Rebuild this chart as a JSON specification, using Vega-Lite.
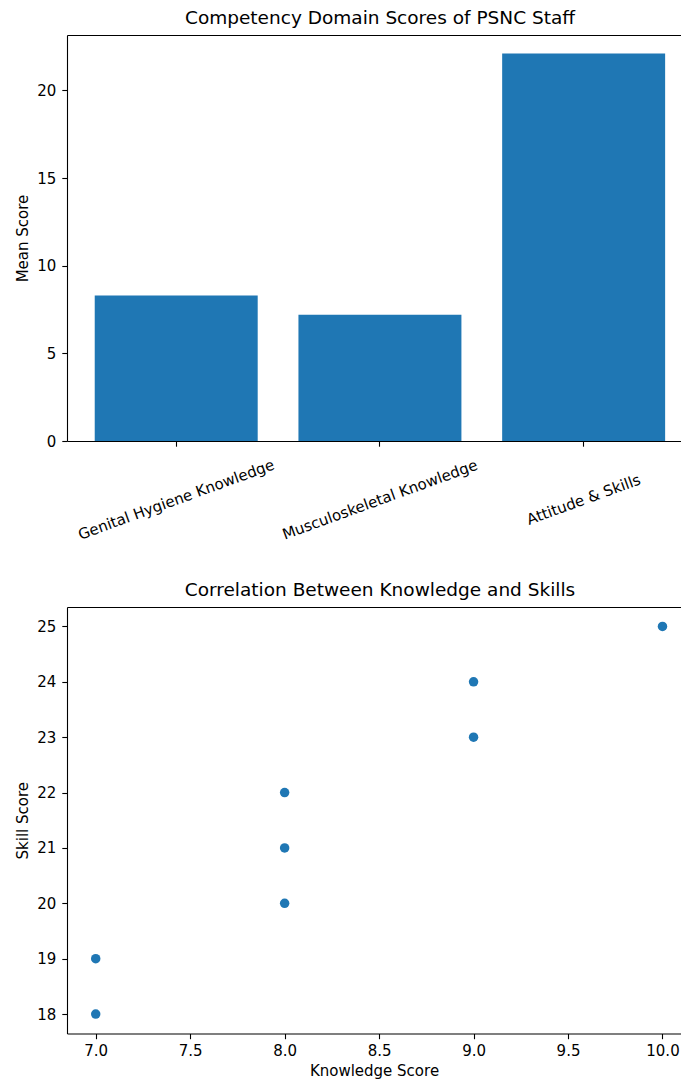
{
  "$schema": "https://vega.github.io/schema/vega-lite/v6.json",
  "background": "white",
  "padding": {"left": 15, "top": 8, "right": 0, "bottom": 0},
  "bounds": "flush",
  "spacing": 166,
  "config": {
    "font": "DejaVu Sans",
    "view": {"stroke": null},
    "axis": {
      "grid": false,
      "domainColor": "black",
      "domainWidth": 1.1,
      "tickColor": "black",
      "tickWidth": 1.1,
      "tickSize": 5.2,
      "labelColor": "black",
      "labelFont": "DejaVu Sans",
      "labelFontSize": 15,
      "labelPadding": 5,
      "labelLimit": 0,
      "titleColor": "black",
      "titleFont": "DejaVu Sans",
      "titleFontSize": 15,
      "titleFontWeight": "normal"
    },
    "title": {"font": "DejaVu Sans", "fontSize": 18.5, "fontWeight": "normal", "color": "black", "baseline": "alphabetic", "offset": 8, "dx": 6}
  },
  "vconcat": [
    {
      "title": "Competency Domain Scores of PSNC Staff",
      "width": 614,
      "height": 406,
      "data": {"values": [
        {"domain": "Genital Hygiene Knowledge", "score": 8.3},
        {"domain": "Musculoskeletal Knowledge", "score": 7.2},
        {"domain": "Attitude & Skills", "score": 22.1}
      ]},
      "layer": [
        {
          "mark": {"type": "bar", "color": "#1f77b4"},
          "encoding": {
            "x": {"field": "domain", "type": "nominal", "sort": null,
                  "scale": {"paddingInner": 0.2, "paddingOuter": 0.107, "align": 0.636},
                  "axis": {"title": null, "labelAngle": -20, "labelAlign": "center", "labelBaseline": "middle", "labelPadding": 53}},
            "y": {"field": "score", "type": "quantitative",
                  "scale": {"domain": [0, 23.16], "nice": false, "zero": true},
                  "axis": {"title": "Mean Score", "values": [0, 5, 10, 15, 20], "format": "d", "labelPadding": 6, "titlePadding": 6}}
          }
        },
        {
          "mark": {"type": "bar", "opacity": 0},
          "encoding": {
            "x": {"field": "domain", "type": "nominal", "sort": null,
                  "axis": {"orient": "top", "title": null, "labels": false, "ticks": false}},
            "y": {"field": "score", "type": "quantitative"}
          }
        }
      ],
      "resolve": {"axis": {"x": "independent"}}
    },
    {
      "title": "Correlation Between Knowledge and Skills",
      "width": 614,
      "height": 426.5,
      "data": {"values": [
        {"knowledge": 7, "skill": 18},
        {"knowledge": 7, "skill": 19},
        {"knowledge": 8, "skill": 20},
        {"knowledge": 8, "skill": 21},
        {"knowledge": 8, "skill": 22},
        {"knowledge": 9, "skill": 23},
        {"knowledge": 9, "skill": 24},
        {"knowledge": 10, "skill": 25}
      ]},
      "layer": [
        {
          "mark": {"type": "point", "filled": true, "opacity": 1, "color": "#1f77b4", "size": 90},
          "encoding": {
            "x": {"field": "knowledge", "type": "quantitative",
                  "scale": {"domain": [6.848, 10.098], "nice": false, "zero": false},
                  "axis": {"title": "Knowledge Score", "values": [7, 7.5, 8, 8.5, 9, 9.5, 10], "format": ".1f", "titlePadding": 5}},
            "y": {"field": "skill", "type": "quantitative",
                  "scale": {"domain": [17.65, 25.35], "nice": false, "zero": false},
                  "axis": {"title": "Skill Score", "values": [18, 19, 20, 21, 22, 23, 24, 25], "format": "d", "labelPadding": 6, "titlePadding": 6}}
          }
        },
        {
          "mark": {"type": "point", "opacity": 0},
          "encoding": {
            "x": {"field": "knowledge", "type": "quantitative",
                  "axis": {"orient": "top", "title": null, "labels": false, "ticks": false}},
            "y": {"field": "skill", "type": "quantitative"}
          }
        }
      ],
      "resolve": {"axis": {"x": "independent"}}
    }
  ]
}
